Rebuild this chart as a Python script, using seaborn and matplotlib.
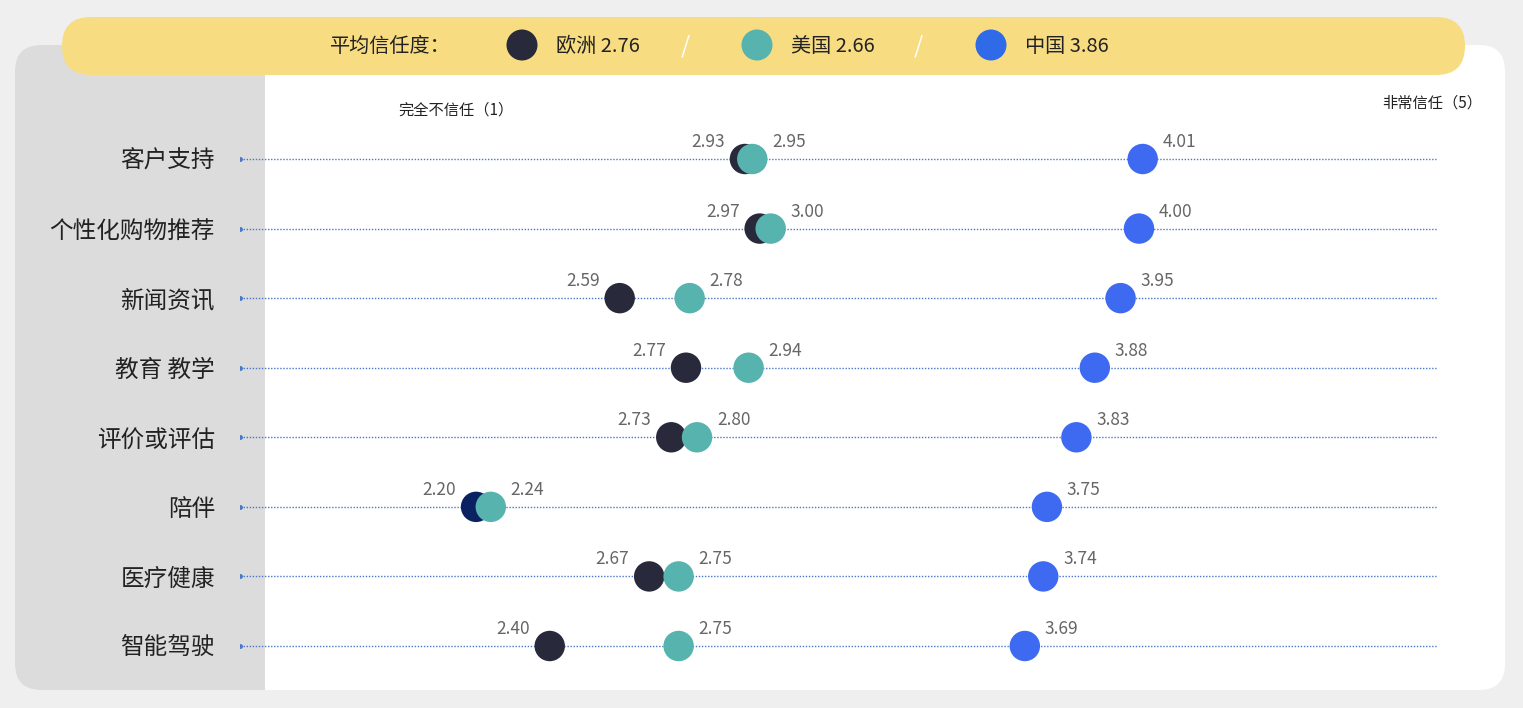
import numpy as np
import pandas as pd
import matplotlib
matplotlib.use("Agg")
import matplotlib.pyplot as plt
from matplotlib.patches import FancyBboxPatch, Rectangle, Circle
import seaborn as sns

# ---------------- data ----------------
categories = ['客户支持', '个性化购物推荐', '新闻资讯', '教育 教学', '评价或评估', '陪伴', '医疗健康', '智能驾驶']
europe = [2.93, 2.97, 2.59, 2.77, 2.73, 2.20, 2.67, 2.40]
usa = [2.95, 3.00, 2.78, 2.94, 2.80, 2.24, 2.75, 2.75]
china = [4.01, 4.00, 3.95, 3.88, 3.83, 3.75, 3.74, 3.69]
region_names = ['欧洲', '美国', '中国']
region_avgs = [2.76, 2.66, 3.86]
legend_title = '平均信任度：'
left_label = '完全不信任（1）'
right_label = '非常信任（5）'

# ---------------- style ----------------
sns.set_theme(style='white')
plt.rcParams['font.family'] = ['Noto Sans CJK SC', 'DejaVu Sans']

W, H = 1523, 708
fig = plt.figure(figsize=(W / 100, H / 100), dpi=100)
fig.patch.set_facecolor('#efefef')

col_eu = '#282a3b'
col_eu_dark = '#0b2262'
col_us = '#56b3ad'
col_cn = '#3e6af2'
col_line = '#4a78c8'

# background layer in pixel coordinates
bg = fig.add_axes([0, 0, 1, 1], zorder=0)
bg.set_xlim(0, W)
bg.set_ylim(H, 0)
bg.axis('off')

# white panel
bg.add_patch(FancyBboxPatch((15, 45), 1490, 645, boxstyle='round,pad=0,rounding_size=26',
                            facecolor='white', edgecolor='none'))
# gray left column
bg.add_patch(FancyBboxPatch((15, 45), 290, 645, boxstyle='round,pad=0,rounding_size=26',
                            facecolor='#dcdcdc', edgecolor='none'))
bg.add_patch(Rectangle((265, 45), 60, 645, facecolor='white', edgecolor='none'))
# yellow banner
bg.add_patch(FancyBboxPatch((62, 17), 1403, 58, boxstyle='round,pad=0,rounding_size=29',
                            facecolor='#f8dc82', edgecolor='none'))

bg.text(330, 46, legend_title, fontsize=14.5, color='#222222', va='center', ha='left')
leg_cols = [col_eu, col_us, '#2f6ae8']
leg_circle_x = [522, 757, 991]
for name, avg, c, cx in zip(region_names, region_avgs, leg_cols, leg_circle_x):
    bg.add_patch(Circle((cx, 45), 15.5, facecolor=c, edgecolor='none'))
    bg.text(cx + 34, 46, f'{name} {avg:.2f}', fontsize=14.5, color='#222222', va='center', ha='left')
for sx in [685, 918]:
    bg.text(sx, 46, '/', fontsize=17, color='white', va='center', ha='center')

bg.text(456, 110, left_label, fontsize=11, color='#222222', va='center', ha='center')
bg.text(1482, 103, right_label, fontsize=11, color='#222222', va='center', ha='right')

# ---------------- main plot ----------------
x_left_px, x_right_px = 240, 1437
row_top, row_bot = 159, 646
step = (row_bot - row_top) / (len(categories) - 1)
ax_top = row_top - step / 2
ax_bot = row_bot + step / 2
ax = fig.add_axes([x_left_px / W, 1 - ax_bot / H, (x_right_px - x_left_px) / W, (ax_bot - ax_top) / H],
                  zorder=1)
ax.patch.set_alpha(0)

a, b = -334.2, 368.3   # pixel = a + b * value
xmin = (x_left_px - a) / b
xmax = (x_right_px - a) / b

rows = np.arange(len(categories))
df = pd.DataFrame({
    'row': np.concatenate([rows, rows, rows]),
    'value': europe + usa + china,
    'region': ['欧洲'] * len(rows) + ['美国'] * len(rows) + ['中国'] * len(rows),
})
df['key'] = df['region']
df.loc[(df['region'] == '欧洲') & (df['row'] == categories.index('陪伴')), 'key'] = '欧洲*'
palette = {'欧洲': col_eu, '欧洲*': col_eu_dark, '美国': col_us, '中国': col_cn}

for r in rows:
    ax.plot([xmin, xmax], [r, r], color=col_line, lw=1.0, ls=(0, (1, 1.2)), zorder=1)
    ax.plot([xmin], [r], marker='o', ms=2.5, color=col_line, zorder=1)

sns.scatterplot(data=df, x='value', y='row', hue='key', palette=palette, s=480,
                linewidth=0, legend=False, ax=ax, zorder=3)

for _, rw in df.iterrows():
    if rw['region'] == '欧洲':
        ax.annotate(f"{rw['value']:.2f}", (rw['value'], rw['row']), xytext=(-20, 17),
                    textcoords='offset pixels', ha='right', va='center', fontsize=12.5, color='#666666')
    else:
        ax.annotate(f"{rw['value']:.2f}", (rw['value'], rw['row']), xytext=(20, 17),
                    textcoords='offset pixels', ha='left', va='center', fontsize=12.5, color='#666666')

ax.set_xlim(xmin, xmax)
ax.set_ylim(len(categories) - 0.5, -0.5)
ax.set_yticks(rows)
ax.set_yticklabels(categories, fontsize=17, color='#222222')
ax.tick_params(axis='y', length=0, pad=18)
ax.set_xticks([])
ax.set_xlabel('')
ax.set_ylabel('')
for sp in ax.spines.values():
    sp.set_visible(False)

fig.savefig('out.png', dpi=100, facecolor=fig.get_facecolor())
